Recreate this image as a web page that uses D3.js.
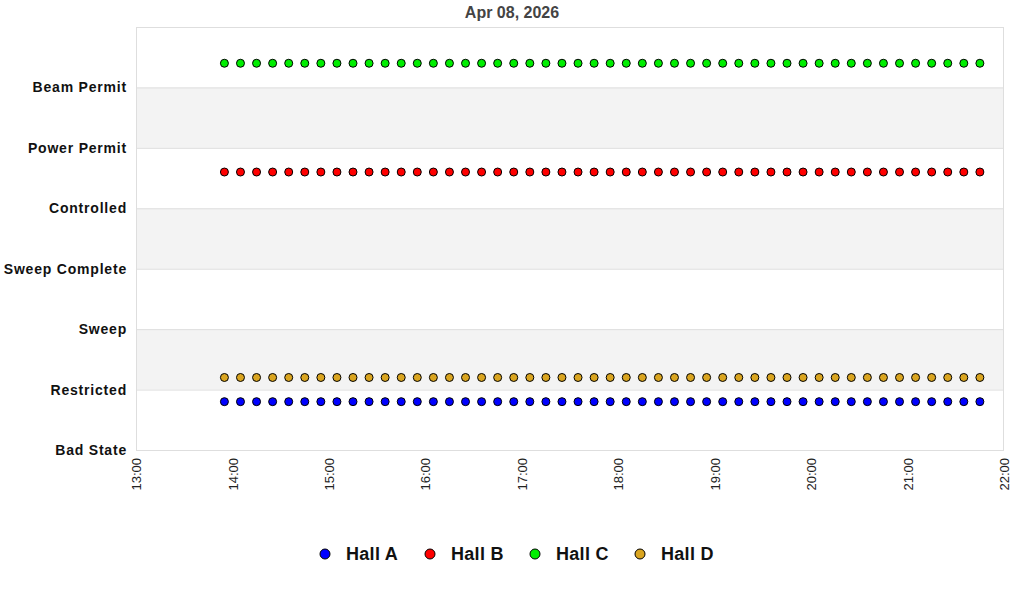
<!DOCTYPE html>
<html>
<head>
<meta charset="utf-8">
<script src="https://cdn.jsdelivr.net/npm/d3@7"></script>
<style>
  body { margin: 0; background: #fff; }
  text { font-family: "Liberation Sans", Arial, sans-serif; }
</style>
</head>
<body>
<svg width="1024" height="600"></svg>
<script>
var title = "Apr 08, 2026";
var states = ["Bad State", "Restricted", "Sweep", "Sweep Complete", "Controlled", "Power Permit", "Beam Permit"];
var xTicks = ["13:00", "14:00", "15:00", "16:00", "17:00", "18:00", "19:00", "20:00", "21:00", "22:00"];

var times = ["13:55",
  "14:05", "14:15", "14:25", "14:35", "14:45", "14:55",
  "15:05", "15:15", "15:25", "15:35", "15:45", "15:55",
  "16:05", "16:15", "16:25", "16:35", "16:45", "16:55",
  "17:05", "17:15", "17:25", "17:35", "17:45", "17:55",
  "18:05", "18:15", "18:25", "18:35", "18:45", "18:55",
  "19:05", "19:15", "19:25", "19:35", "19:45", "19:55",
  "20:05", "20:15", "20:25", "20:35", "20:45", "20:55",
  "21:05", "21:15", "21:25", "21:35", "21:45"];

// plotted state level for each hall (offset a bit inside the state band)
var hallA = [0.8, 0.8, 0.8, 0.8, 0.8, 0.8, 0.8, 0.8, 0.8, 0.8, 0.8, 0.8, 0.8, 0.8, 0.8, 0.8,
  0.8, 0.8, 0.8, 0.8, 0.8, 0.8, 0.8, 0.8, 0.8, 0.8, 0.8, 0.8, 0.8, 0.8, 0.8, 0.8,
  0.8, 0.8, 0.8, 0.8, 0.8, 0.8, 0.8, 0.8, 0.8, 0.8, 0.8, 0.8, 0.8, 0.8, 0.8, 0.8];
var hallB = [4.6, 4.6, 4.6, 4.6, 4.6, 4.6, 4.6, 4.6, 4.6, 4.6, 4.6, 4.6, 4.6, 4.6, 4.6, 4.6,
  4.6, 4.6, 4.6, 4.6, 4.6, 4.6, 4.6, 4.6, 4.6, 4.6, 4.6, 4.6, 4.6, 4.6, 4.6, 4.6,
  4.6, 4.6, 4.6, 4.6, 4.6, 4.6, 4.6, 4.6, 4.6, 4.6, 4.6, 4.6, 4.6, 4.6, 4.6, 4.6];
var hallC = [6.4, 6.4, 6.4, 6.4, 6.4, 6.4, 6.4, 6.4, 6.4, 6.4, 6.4, 6.4, 6.4, 6.4, 6.4, 6.4,
  6.4, 6.4, 6.4, 6.4, 6.4, 6.4, 6.4, 6.4, 6.4, 6.4, 6.4, 6.4, 6.4, 6.4, 6.4, 6.4,
  6.4, 6.4, 6.4, 6.4, 6.4, 6.4, 6.4, 6.4, 6.4, 6.4, 6.4, 6.4, 6.4, 6.4, 6.4, 6.4];
var hallD = [1.2, 1.2, 1.2, 1.2, 1.2, 1.2, 1.2, 1.2, 1.2, 1.2, 1.2, 1.2, 1.2, 1.2, 1.2, 1.2,
  1.2, 1.2, 1.2, 1.2, 1.2, 1.2, 1.2, 1.2, 1.2, 1.2, 1.2, 1.2, 1.2, 1.2, 1.2, 1.2,
  1.2, 1.2, 1.2, 1.2, 1.2, 1.2, 1.2, 1.2, 1.2, 1.2, 1.2, 1.2, 1.2, 1.2, 1.2, 1.2];

var seriesNames = ["Hall A", "Hall B", "Hall C", "Hall D"];
var seriesColors = ["#0000ff", "#ff0000", "#00ee00", "#daa520"];
var seriesValues = [hallA, hallB, hallC, hallD];

var svg = d3.select("svg"),
    margin = {top: 27, right: 20, bottom: 150, left: 136},
    width = +svg.attr("width") - margin.left - margin.right,
    height = +svg.attr("height") - margin.top - margin.bottom,
    g = svg.append("g").attr("transform", "translate(" + margin.left + "," + margin.top + ")");

var parseTime = d3.timeParse("%Y-%m-%d %H:%M");
var day = "2026-04-08 ";

var x = d3.scaleTime()
    .domain([parseTime(day + xTicks[0]), parseTime(day + xTicks[xTicks.length - 1])])
    .range([0, width]);

var y = d3.scaleLinear()
    .domain([0, states.length])
    .range([height, 0]);

// alternating bands
g.selectAll(".band")
  .data(d3.range(1, states.length, 2))
  .enter().append("rect")
    .attr("x", 0)
    .attr("width", width)
    .attr("y", function(d) { return y(d + 1); })
    .attr("height", function(d) { return y(d) - y(d + 1); })
    .attr("fill", "#f3f3f3");

// grid lines
g.selectAll(".grid")
  .data(d3.range(1, states.length))
  .enter().append("line")
    .attr("x1", 0)
    .attr("x2", width)
    .attr("y1", function(d) { return y(d) + 0.5; })
    .attr("y2", function(d) { return y(d) + 0.5; })
    .attr("stroke", "#dedede");

// plot frame
g.append("rect")
    .attr("x", 0.5)
    .attr("y", 0.5)
    .attr("width", width - 1)
    .attr("height", height)
    .attr("fill", "none")
    .attr("stroke", "#dedede");

// y labels
g.append("g")
    .call(d3.axisLeft(y).tickValues(d3.range(0, states.length)).tickSize(0).tickPadding(9)
      .tickFormat(function(d) { return states[d]; }))
    .call(function(a) { a.select(".domain").remove(); })
  .selectAll("text")
    .attr("font-family", "Liberation Sans, Arial, sans-serif")
    .attr("font-size", 14)
    .attr("font-weight", "bold")
    .attr("letter-spacing", 0.8)
    .attr("fill", "#111");

// x axis, rotated labels
g.append("g")
    .attr("transform", "translate(0," + height + ")")
    .call(d3.axisBottom(x)
      .tickValues(xTicks.map(function(t) { return parseTime(day + t); }))
      .tickSize(0)
      .tickFormat(d3.timeFormat("%H:%M")))
    .call(function(a) { a.select(".domain").remove(); })
  .selectAll("text")
    .attr("font-family", "Liberation Sans, Arial, sans-serif")
    .attr("font-size", 13)
    .attr("fill", "#222")
    .attr("transform", "rotate(-90)")
    .attr("text-anchor", "end")
    .attr("x", -8)
    .attr("y", 0)
    .attr("dy", "0.35em");

// points
seriesValues.forEach(function(vals, i) {
  g.selectAll(".pt" + i)
    .data(vals)
    .enter().append("circle")
      .attr("cx", function(d, j) { return x(parseTime(day + times[j])); })
      .attr("cy", function(d) { return y(d); })
      .attr("r", 4)
      .attr("fill", seriesColors[i])
      .attr("stroke", "#000")
      .attr("stroke-width", 1);
});

// title
svg.append("text")
    .attr("x", 512)
    .attr("y", 18)
    .attr("text-anchor", "middle")
    .attr("font-size", 16)
    .attr("font-weight", "bold")
    .attr("fill", "#444")
    .text(title);

// legend
var legend = svg.append("g").attr("transform", "translate(325,554)");
var item = legend.selectAll(".item")
  .data(seriesNames)
  .enter().append("g")
    .attr("transform", function(d, i) { return "translate(" + (i * 105) + ",0)"; });
item.append("circle")
    .attr("r", 5)
    .attr("fill", function(d, i) { return seriesColors[i]; })
    .attr("stroke", "#000");
item.append("text")
    .attr("x", 21)
    .attr("dy", "0.35em")
    .attr("font-size", 18)
    .attr("font-weight", "bold")
    .attr("letter-spacing", 0.3)
    .attr("fill", "#111")
    .text(function(d) { return d; });
</script>
</body>
</html>
